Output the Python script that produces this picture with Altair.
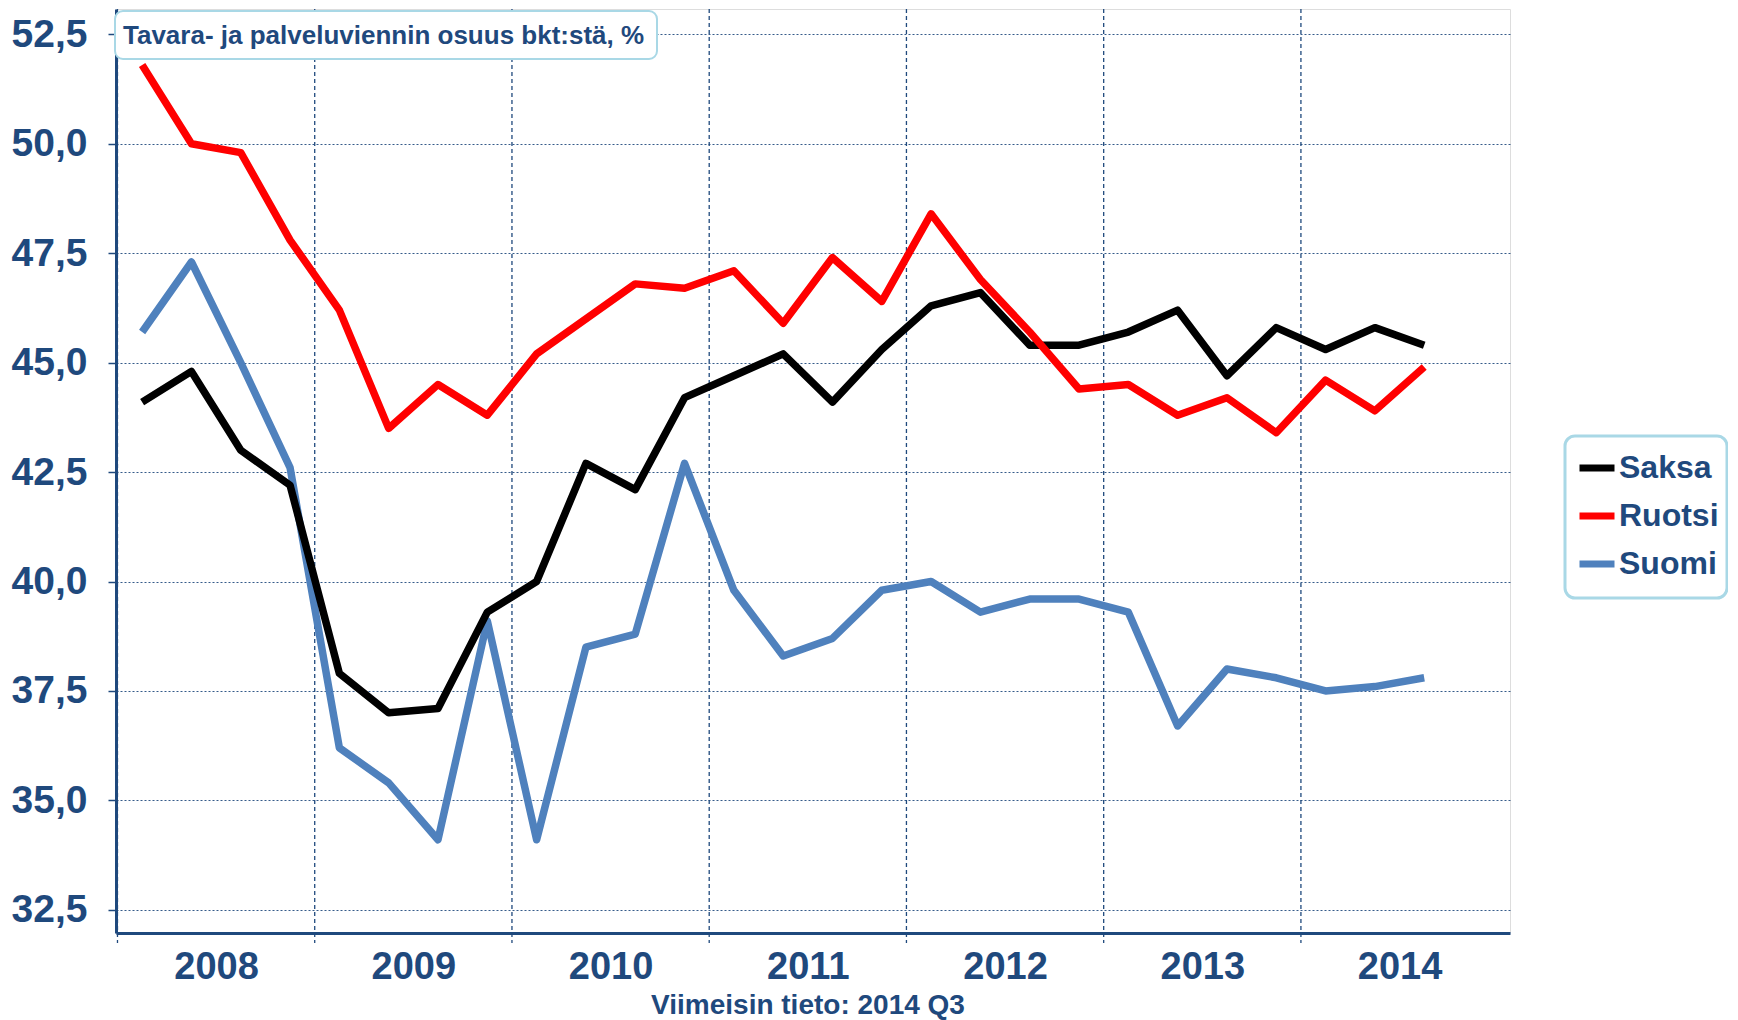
import altair as alt
import pandas as pd

# ---- data (quarterly, 2008Q1 .. 2014Q3) ----
years = [2008, 2009, 2010, 2011, 2012, 2013, 2014]
series_names = ["Saksa", "Ruotsi", "Suomi"]
saksa = [44.1, 44.8, 43.0, 42.2, 37.9, 37.0, 37.1, 39.3, 40.0, 42.7, 42.1, 44.2, 44.7, 45.2,
         44.1, 45.3, 46.3, 46.6, 45.4, 45.4, 45.7, 46.2, 44.7, 45.8, 45.3, 45.8, 45.4]
ruotsi = [51.8, 50.0, 49.8, 47.8, 46.2, 43.5, 44.5, 43.8, 45.2, 46.0, 46.8, 46.7, 47.1, 45.9,
          47.4, 46.4, 48.4, 46.9, 45.7, 44.4, 44.5, 43.8, 44.2, 43.4, 44.6, 43.9, 44.9]
suomi = [45.7, 47.3, 45.0, 42.6, 36.2, 35.4, 34.1, 39.1, 34.1, 38.5, 38.8, 42.7, 39.8, 38.3,
         38.7, 39.8, 40.0, 39.3, 39.6, 39.6, 39.3, 36.7, 38.0, 37.8, 37.5, 37.6, 37.8]
y_ticks = [32.5, 35.0, 37.5, 40.0, 42.5, 45.0, 47.5, 50.0, 52.5]
title_text = "Tavara- ja palveluviennin osuus bkt:stä, %"
footer_text = "Viimeisin tieto: 2014 Q3"

rows = []
for name, vals in zip(series_names, [saksa, ruotsi, suomi]):
    for i, v in enumerate(vals):
        rows.append({"t": i + 0.5, "value": v, "series": name})
df = pd.DataFrame(rows)

year_bounds = pd.DataFrame({"t": [4 * k for k in range(len(years))]})
year_mids = [4 * k + 2 for k in range(len(years))]

W, H = 1394, 924
FONT = "Liberation Sans Narrow, Arial Narrow, Liberation Sans, Arial"
BLUE = "#1F497D"
BORDER = "#A9D8E6"

x_scale = alt.Scale(domain=[-0.03, 28.24], nice=False, zero=False)
y_scale = alt.Scale(domain=[31.97, 53.08], nice=False, zero=False)
color_scale = alt.Scale(domain=series_names, range=["#000000", "#FF0000", "#4F81BD"])

x_axis = alt.Axis(values=year_mids, labelExpr="toString(2008 + (datum.value - 2) / 4)",
                  ticks=False, grid=False, title=None, domainColor=BLUE, domainWidth=3,
                  labelFont=FONT, labelFontSize=38, labelFontWeight="bold", labelColor=BLUE,
                  labelPadding=15, labelFlush=False, labelOverlap=False)
y_axis = alt.Axis(values=y_ticks, labelExpr="replace(format(datum.value, '.1f'), '.', ',')",
                  grid=True, gridDash=[2, 2], gridColor=BLUE, gridWidth=1, gridOpacity=0.9,
                  tickSize=8, tickColor=BLUE, tickWidth=1.5, title=None,
                  domainColor=BLUE, domainWidth=3,
                  labelFont=FONT, labelFontSize=39, labelFontWeight="bold", labelColor=BLUE,
                  labelPadding=21, labelFlush=False, labelOverlap=False)

legend = alt.Legend(orient="none", legendX=1448, legendY=426, title=None,
                    symbolType="stroke", symbolSize=1225, symbolStrokeWidth=7,
                    labelFont=FONT, labelFontSize=32, labelFontWeight="bold", labelColor=BLUE,
                    padding=12, rowPadding=11, labelOffset=1)

vrules = alt.Chart(year_bounds).mark_rule(strokeDash=[4, 3], color=BLUE, strokeWidth=1.3).encode(
    x=alt.X("t:Q", scale=x_scale, axis=x_axis),
    y=alt.value(0), y2=alt.value(H + 10))


def line_layer(name):
    return alt.Chart(df).transform_filter(alt.datum.series == name).mark_line(
        strokeWidth=7.5, strokeJoin="round").encode(
        x=alt.X("t:Q", scale=x_scale, axis=x_axis),
        y=alt.Y("value:Q", scale=y_scale, axis=y_axis),
        color=alt.Color("series:N", scale=color_scale, sort=series_names, legend=legend))


one = pd.DataFrame({"a": [0]})
title_box = alt.Chart(one).mark_rect(fill="white", stroke=BORDER, strokeWidth=2, cornerRadius=8).encode(
    x=alt.value(-1), x2=alt.value(541), y=alt.value(2), y2=alt.value(50))
title_mark = alt.Chart(one).mark_text(text=title_text, align="left", baseline="alphabetic",
                                      font=FONT, fontSize=26, fontWeight="bold", color=BLUE).encode(
    x=alt.value(7), y=alt.value(35))
legend_box = alt.Chart(one).mark_rect(fill="white", stroke=BORDER, strokeWidth=3, cornerRadius=10).encode(
    x=alt.value(1449), x2=alt.value(1611), y=alt.value(427), y2=alt.value(589))
footer = alt.Chart(one).mark_text(text=footer_text, align="center", baseline="alphabetic",
                                  font=FONT, fontSize=28, fontWeight="bold", color=BLUE).encode(
    x=alt.value(692), y=alt.value(1005))

chart = alt.layer(
    vrules, line_layer("Suomi"), line_layer("Saksa"), line_layer("Ruotsi"),
    title_box, title_mark, legend_box, footer
).properties(
    width=W, height=H,
    padding={"left": 108, "top": 1, "right": 218, "bottom": 88},
    autosize=alt.AutoSizeParams(type="none"),
).configure_view(stroke=None).configure(background="white")

chart.save("out.html", embed_options={"renderer": "svg", "actions": False})
